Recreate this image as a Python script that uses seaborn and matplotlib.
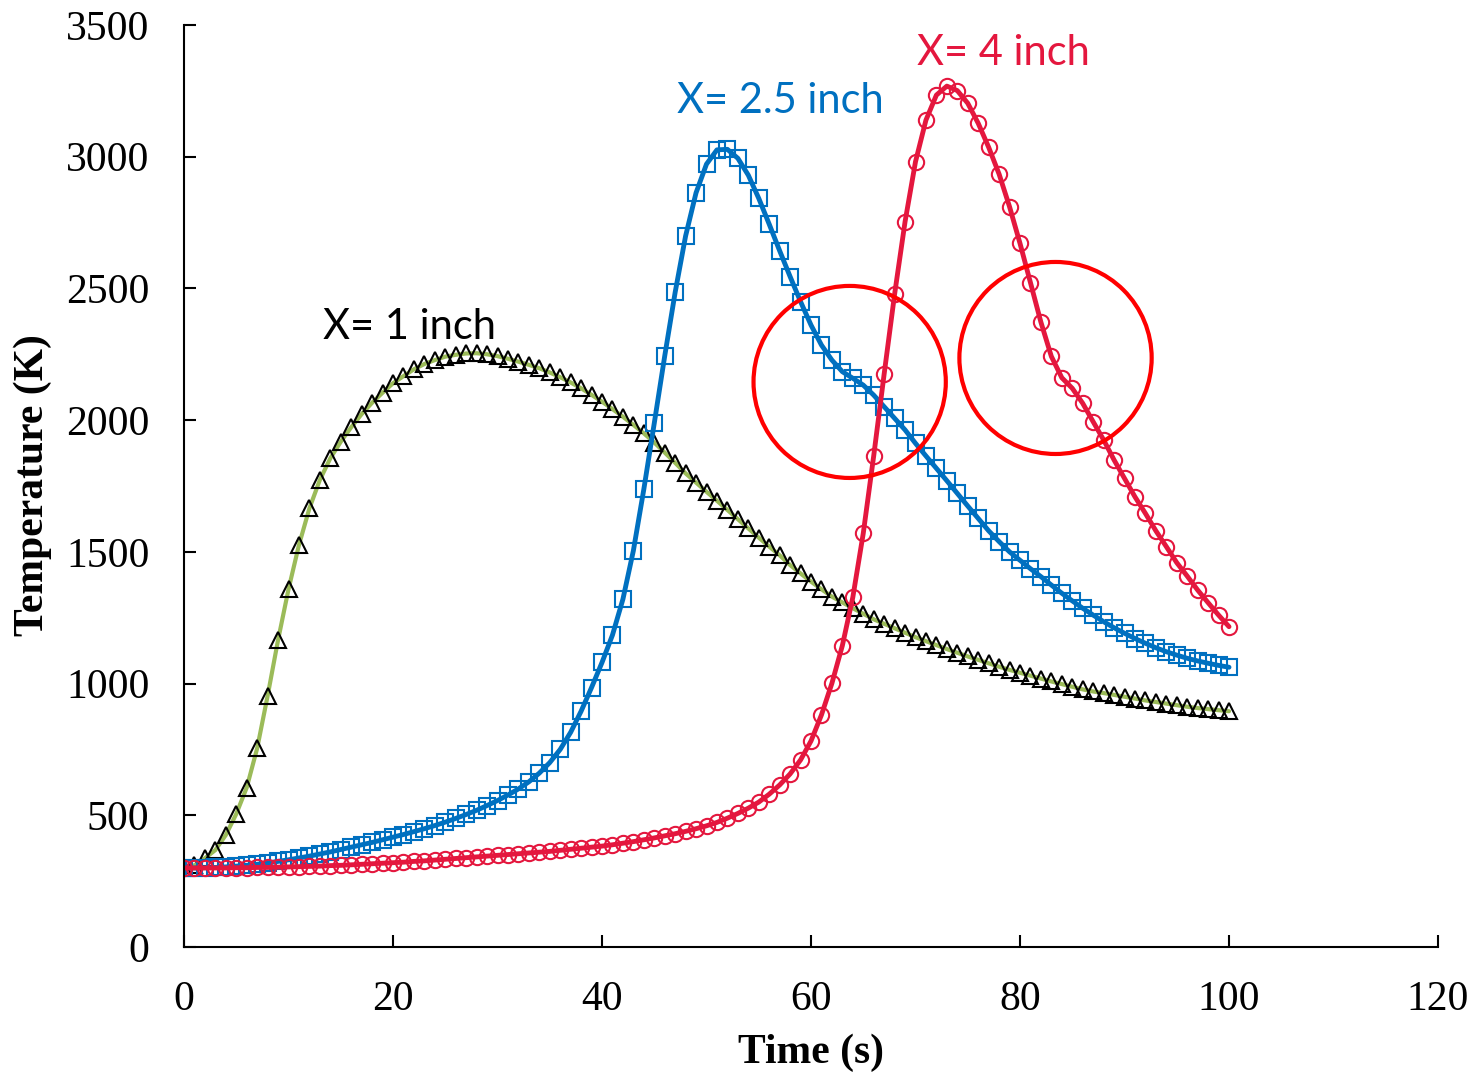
import numpy as np
import pandas as pd
import matplotlib
matplotlib.use("Agg")
import matplotlib.pyplot as plt
from matplotlib.patches import Ellipse
import seaborn as sns

# ---------------- data ----------------
time_s = list(range(0, 101))

temp_x1 = [300, 310, 337, 368, 425, 505, 605, 754, 953, 1165,
           1358, 1526, 1665, 1773, 1855, 1918, 1973, 2023, 2066, 2104,
           2140, 2167, 2193, 2213, 2228, 2241, 2248, 2253, 2254, 2250,
           2243, 2233, 2222, 2210, 2197, 2181, 2163, 2143, 2121, 2096,
           2070, 2042, 2013, 1982, 1950, 1915, 1877, 1838, 1798, 1763,
           1728, 1694, 1659, 1624, 1589, 1554, 1520, 1487, 1450, 1418,
           1387, 1358, 1330, 1308, 1286, 1265, 1244, 1227, 1210, 1193,
           1176, 1161, 1146, 1131, 1117, 1103, 1090, 1077, 1064, 1052,
           1041, 1030, 1019, 1008, 998, 988, 978, 970, 964, 957,
           950, 943, 936, 930, 924, 918, 912, 907, 903, 899,
           895]

temp_x25 = [300, 300, 301, 302, 304, 307, 310, 314, 319, 325,
            331, 338, 345, 353, 361, 370, 379, 388, 397, 407,
            417, 427, 438, 449, 461, 474, 488, 503, 519, 537,
            556, 577, 600, 627, 660, 700, 750, 815, 895, 985,
            1080, 1184, 1320, 1504, 1737, 1988, 2243, 2485, 2699, 2863,
            2972, 3026, 3028, 2994, 2930, 2842, 2744, 2643, 2545, 2450,
            2361, 2285, 2228, 2184, 2159, 2133, 2095, 2051, 2007, 1963,
            1912, 1864, 1817, 1770, 1722, 1674, 1627, 1580, 1539, 1500,
            1468, 1436, 1406, 1374, 1343, 1314, 1286, 1260, 1235, 1212,
            1191, 1171, 1153, 1136, 1121, 1108, 1096, 1086, 1077, 1069,
            1062]

temp_x4 = [300, 300, 300, 300, 300, 301, 301, 302, 302, 303,
           304, 305, 306, 307, 309, 310, 312, 314, 316, 318,
           320, 322, 325, 327, 330, 333, 336, 339, 342, 345,
           348, 351, 354, 357, 360, 363, 367, 371, 375, 379,
           383, 388, 394, 400, 407, 414, 422, 430, 439, 449,
           460, 473, 489, 507, 527, 550, 580, 615, 657, 710,
           782, 881, 1001, 1144, 1327, 1570, 1864, 2175, 2478, 2753,
           2981, 3139, 3234, 3268, 3251, 3203, 3127, 3036, 2934, 2810,
           2671, 2522, 2372, 2242, 2161, 2121, 2064, 1994, 1925, 1849,
           1779, 1709, 1646, 1580, 1520, 1459, 1408, 1355, 1307, 1260,
           1216]

series_labels = ["X= 1 inch", "X= 2.5 inch", "X= 4 inch"]
x_ticks = [0, 20, 40, 60, 80, 100, 120]
y_ticks = [0, 500, 1000, 1500, 2000, 2500, 3000, 3500]

# ---------------- style ----------------
sns.set_theme(style="ticks")
plt.rcParams["font.family"] = ["Liberation Serif", "DejaVu Serif"]

GREEN = "#9BBB59"
BLUE = "#0070C0"
RED = "#E4173E"

fig = plt.figure(figsize=(14.79, 10.75), dpi=100)
ax = fig.add_axes([184 / 1479, 1 - 947 / 1075, (1438 - 184) / 1479, (947 - 25) / 1075])

df = pd.DataFrame({"t": time_s, "x1": temp_x1, "x25": temp_x25, "x4": temp_x4})

sns.lineplot(data=df, x="t", y="x1", ax=ax, color=GREEN, linewidth=3.0,
             marker="^", markersize=12, markerfacecolor="none",
             markeredgecolor="black", markeredgewidth=1.5, sort=False)
sns.lineplot(data=df, x="t", y="x25", ax=ax, color=BLUE, linewidth=3.5,
             marker="s", markersize=11.5, markerfacecolor="none",
             markeredgecolor=BLUE, markeredgewidth=1.5, sort=False)
sns.lineplot(data=df, x="t", y="x4", ax=ax, color=RED, linewidth=3.5,
             marker="o", markersize=11, markerfacecolor="none",
             markeredgecolor=RED, markeredgewidth=1.5, sort=False)

# highlight circles
for cx, cy in [(63.7, 2145), (83.4, 2236)]:
    ax.add_patch(Ellipse((cx, cy), width=18.4, height=729, fill=False,
                         edgecolor="#FF0000", linewidth=3.0, zorder=5))

# series annotations
ann_font = ["Lato", "DejaVu Sans"]
ax.text(13.3, 2354, series_labels[0], color="black", fontsize=30,
        family=ann_font, va="center", ha="left")
ax.text(47.2, 3211, series_labels[1], color=BLUE, fontsize=30,
        family=ann_font, va="center", ha="left")
ax.text(70.1, 3392, series_labels[2], color=RED, fontsize=30,
        family=ann_font, va="center", ha="left")

ax.set_xlim(0, 120)
ax.set_ylim(0, 3500)
ax.set_xticks(x_ticks)
ax.set_yticks(y_ticks)
ax.set_xticklabels([str(v) for v in x_ticks])
ax.set_yticklabels([str(v) for v in y_ticks])

ax.tick_params(axis="both", direction="in", length=8.5, width=1.5,
               color="black", labelsize=30, labelcolor="black")
ax.tick_params(axis="y", pad=25)
ax.tick_params(axis="x", pad=24)

for side in ["top", "right"]:
    ax.spines[side].set_visible(False)
for side in ["left", "bottom"]:
    ax.spines[side].set_linewidth(1.5)
    ax.spines[side].set_color("black")

ax.set_xlabel("Time (s)", fontsize=30, fontweight="bold", color="black")
ax.set_ylabel("Temperature (K)", fontsize=30, fontweight="bold", color="black")
ax.xaxis.set_label_coords((811 - 184) / 1254, (947 - 1053) / 922)
ax.xaxis.label.set_va("center")
ax.yaxis.set_label_coords((33 - 184) / 1254, (947 - 485) / 922)
ax.yaxis.label.set_va("center")
ax.yaxis.label.set_ha("center")

ax.grid(False)
ax.set_facecolor("white")
fig.patch.set_facecolor("white")

fig.savefig("out.png", dpi=100, facecolor="white")
